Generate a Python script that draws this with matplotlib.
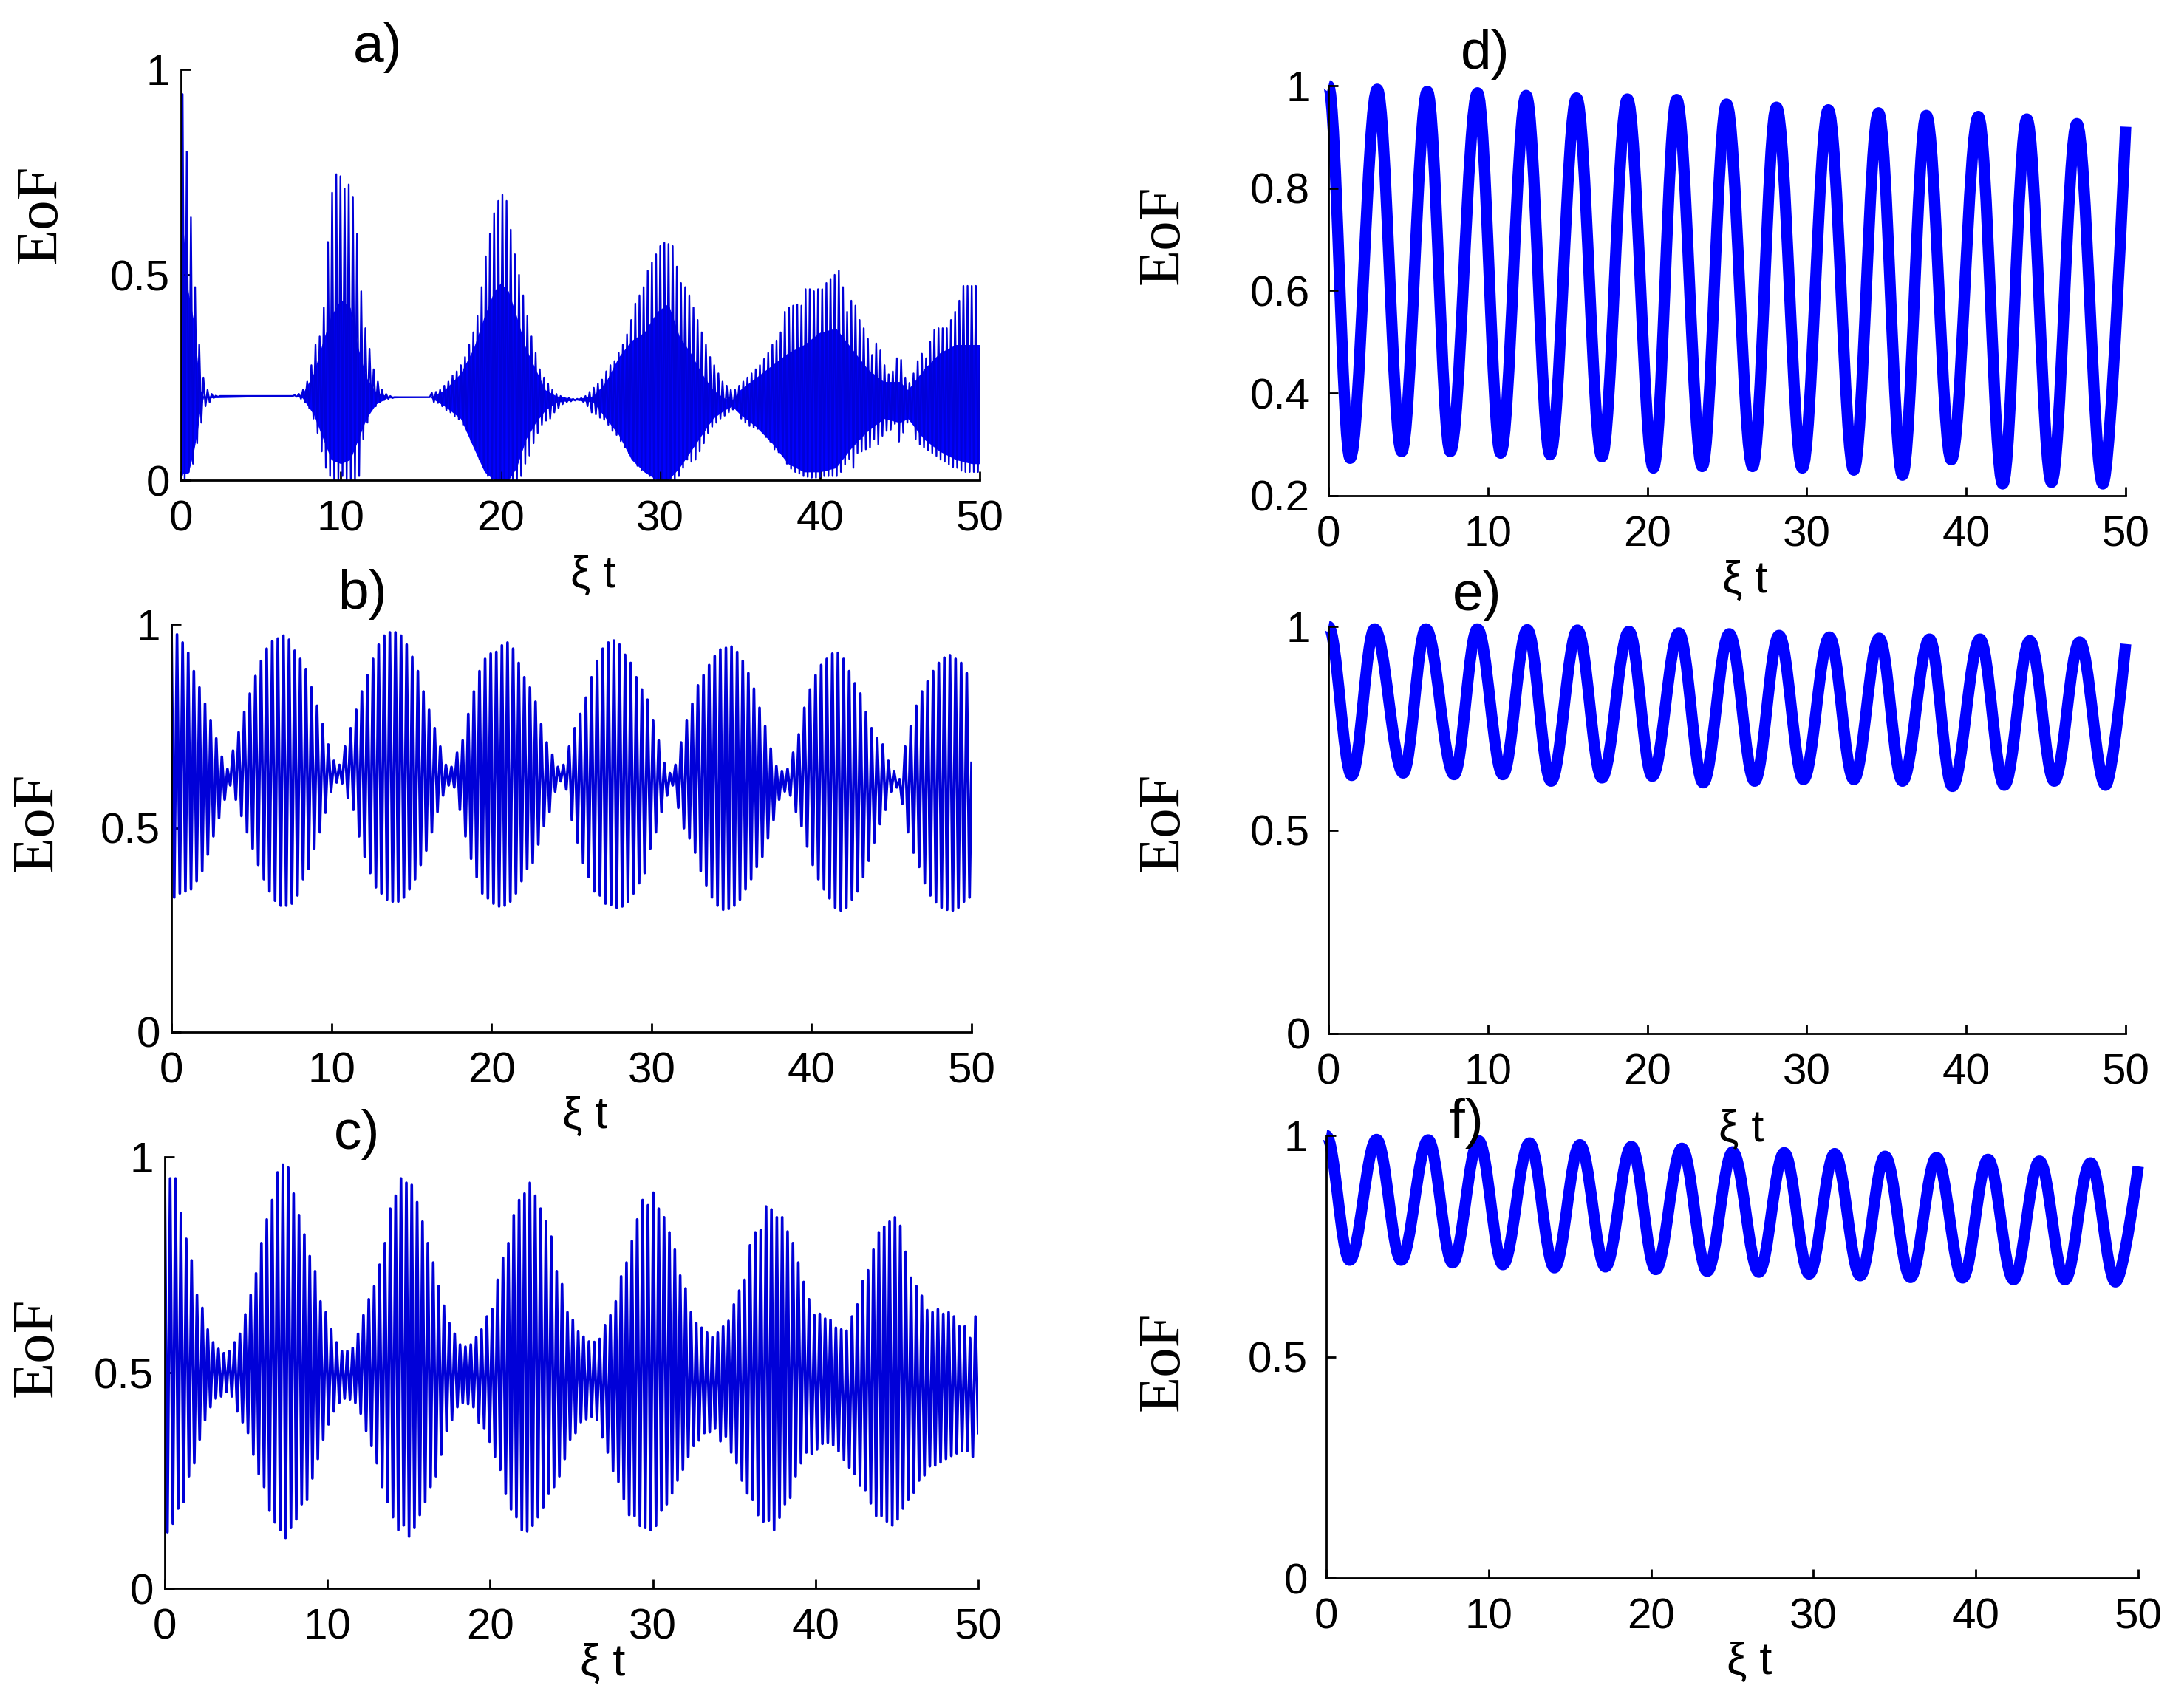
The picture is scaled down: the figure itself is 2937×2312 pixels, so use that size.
import numpy as np
import matplotlib
matplotlib.use("Agg")
import matplotlib.pyplot as plt
from matplotlib.path import Path
from matplotlib.patches import PathPatch

# ---------------- text / ticks ----------------
x_ticks = [0, 10, 20, 30, 40, 50]
x_tick_labels = ['0', '10', '20', '30', '40', '50']
y_ticks_std = [0, 0.5, 1]
y_tick_labels_std = ['0', '0.5', '1']
y_ticks_d = [0.2, 0.4, 0.6, 0.8, 1.0]
y_tick_labels_d = ['0.2', '0.4', '0.6', '0.8', '1']
panel_labels = ['a)', 'b)', 'c)', 'd)', 'e)', 'f)']
x_label = 'ξ t'
y_label = 'EoF'

# ---------------- panel a : fast oscillation extrema ----------------
a_period = 0.26
a_offset = 0.1
a_start = (0.0, 0.0)
a_upper = [0.94, 0.80, 0.64, 0.47, 0.33, 0.25, 0.22, 0.21, 0.206,
           0.205, 0.205, 0.205, 0.205, 0.205, 0.205, 0.205, 0.205, 0.205,
           0.205, 0.205, 0.205, 0.205, 0.205, 0.205, 0.205, 0.205, 0.205,
           0.207, 0.21, 0.22, 0.24, 0.28, 0.33, 0.35, 0.42, 0.58, 0.70, 0.745, 0.74,
           0.71, 0.72, 0.69, 0.60, 0.46, 0.37, 0.32, 0.27, 0.24, 0.22, 0.21, 0.205,
           0.202, 0.202, 0.202, 0.202, 0.202, 0.202, 0.202, 0.202, 0.202,
           0.213, 0.215, 0.22, 0.23, 0.24, 0.255, 0.265, 0.28, 0.30, 0.33, 0.36, 0.40,
           0.47, 0.545, 0.60, 0.65, 0.68, 0.695, 0.68, 0.61, 0.55, 0.50, 0.45, 0.40,
           0.35, 0.31, 0.27, 0.25, 0.235, 0.22, 0.21, 0.205, 0.20, 0.20, 0.198, 0.198,
           0.20, 0.205, 0.215, 0.225, 0.235, 0.245, 0.265, 0.28, 0.29, 0.31, 0.33, 0.355,
           0.39, 0.43, 0.45, 0.47, 0.51, 0.53, 0.55, 0.57, 0.578, 0.575, 0.57, 0.52,
           0.48, 0.47, 0.45, 0.42, 0.39, 0.36, 0.33, 0.30, 0.28, 0.26, 0.24, 0.23, 0.22, 0.22,
           0.23, 0.24, 0.25, 0.26, 0.27, 0.28, 0.295, 0.31, 0.33, 0.34, 0.36, 0.41,
           0.42, 0.425, 0.428, 0.425, 0.465, 0.465, 0.46, 0.465, 0.465, 0.48, 0.49, 0.50,
           0.51, 0.47, 0.41, 0.437, 0.425, 0.39, 0.37, 0.344, 0.305, 0.333, 0.316, 0.28,
           0.258, 0.265, 0.297, 0.293, 0.25, 0.237,
           0.26, 0.29, 0.308, 0.297, 0.337, 0.366, 0.37, 0.37, 0.37, 0.39, 0.41, 0.437,
           0.473, 0.473, 0.473, 0.473]
a_lower = [0.00, 0.02, 0.04, 0.09, 0.14, 0.18, 0.19, 0.20, 0.203,
           0.205, 0.205, 0.205, 0.205, 0.205, 0.205, 0.205, 0.205, 0.205,
           0.205, 0.205, 0.205, 0.205, 0.205, 0.205, 0.205, 0.205, 0.205,
           0.203, 0.198, 0.19, 0.175, 0.15, 0.115, 0.07, 0.03, 0.01, 0.00, 0.00, 0.01,
           0.00, 0.00, 0.00, 0.01, 0.10, 0.14, 0.17, 0.18, 0.19, 0.195, 0.198, 0.20,
           0.202, 0.202, 0.202, 0.202, 0.202, 0.202, 0.202, 0.202, 0.202,
           0.19, 0.188, 0.18, 0.17, 0.165, 0.155, 0.148, 0.135, 0.12, 0.095, 0.08, 0.05,
           0.03, 0.01, 0.00, 0.00, 0.00, 0.00, 0.00, 0.00, 0.00, 0.01, 0.04, 0.06,
           0.09, 0.115, 0.135, 0.145, 0.15, 0.165, 0.175, 0.185, 0.19, 0.192, 0.194, 0.195,
           0.19, 0.18, 0.165, 0.16, 0.152, 0.147, 0.135, 0.12, 0.11, 0.095, 0.08, 0.065,
           0.05, 0.035, 0.025, 0.02, 0.01, 0.00, 0.00, 0.00, 0.00, 0.00, 0.00, 0.01,
           0.03, 0.05, 0.045, 0.05, 0.07, 0.09, 0.115, 0.13, 0.14, 0.15, 0.157, 0.165, 0.172, 0.17,
           0.15, 0.14, 0.132, 0.128, 0.125, 0.12, 0.105, 0.094, 0.075, 0.068, 0.059, 0.04,
           0.028, 0.02, 0.016, 0.01, 0.008, 0.006, 0.006, 0.008, 0.01, 0.01, 0.01, 0.01,
           0.02, 0.038, 0.052, 0.03, 0.066, 0.07, 0.075, 0.08, 0.10, 0.087, 0.108, 0.12,
           0.123, 0.137, 0.094, 0.116, 0.14, 0.144,
           0.10, 0.087, 0.08, 0.073, 0.066, 0.059, 0.05, 0.045, 0.038, 0.032, 0.03, 0.023,
           0.02, 0.02, 0.02, 0.02]
a_end = (50.0, 0.32)
# dense core of panel a (solid region)
a_core_t = [0.0, 0.12, 0.45, 0.78, 1.03, 1.2, 1.4,
            7.2, 7.6, 8.3, 8.9, 9.4, 10.0, 10.6, 11.1, 11.6, 12.2, 12.9,
            15.6, 16.5, 17.5, 18.3, 19.0, 19.6, 20.0, 20.5, 21.0, 21.6, 22.2, 22.8, 23.5,
            24.7, 25.8, 26.6, 27.4, 28.2, 29.0, 29.8, 30.5, 31.2, 31.9, 32.6, 33.3, 34.0,
            34.5, 35.0, 36.0, 37.0, 38.0, 39.0, 40.0, 41.0, 42.0, 43.0, 44.0, 45.0,
            45.5, 46.5, 47.5, 48.5, 49.5, 50.0]
a_core_hi = [0.60, 0.62, 0.46, 0.39, 0.29, 0.22, 0.205,
             0.205, 0.21, 0.26, 0.34, 0.40, 0.44, 0.42, 0.32, 0.25, 0.215, 0.205,
             0.202, 0.22, 0.26, 0.32, 0.40, 0.46, 0.48, 0.46, 0.40, 0.32, 0.27, 0.22, 0.205,
             0.198, 0.205, 0.24, 0.30, 0.34, 0.36, 0.41, 0.43, 0.35, 0.31, 0.26, 0.22, 0.20,
             0.195, 0.22, 0.25, 0.28, 0.31, 0.33, 0.36, 0.37, 0.32, 0.27, 0.24, 0.24,
             0.22, 0.27, 0.31, 0.33, 0.33, 0.33]
a_core_lo = [0.0, 0.016, 0.016, 0.067, 0.12, 0.17, 0.2,
             0.205, 0.20, 0.16, 0.10, 0.05, 0.04, 0.05, 0.10, 0.15, 0.185, 0.20,
             0.202, 0.18, 0.15, 0.08, 0.02, 0.0, 0.0, 0.0, 0.03, 0.10, 0.14, 0.17, 0.19,
             0.195, 0.19, 0.15, 0.11, 0.05, 0.02, 0.0, 0.0, 0.03, 0.07, 0.11, 0.15, 0.17,
             0.18, 0.16, 0.13, 0.09, 0.04, 0.02, 0.02, 0.03, 0.08, 0.12, 0.15, 0.14,
             0.15, 0.10, 0.07, 0.05, 0.04, 0.04]

# ---------------- panel b ----------------
b_period = 0.35
b_upper = [1.0, 0.975, 0.955, 0.93, 0.885, 0.845, 0.805, 0.765, 0.72, 0.675,
           0.645, 0.69, 0.735, 0.785, 0.83, 0.873, 0.91, 0.94, 0.958, 0.965,
           0.972, 0.962, 0.935, 0.915, 0.89, 0.845, 0.80, 0.755, 0.705, 0.665,
           0.655, 0.70, 0.745, 0.79, 0.835, 0.875, 0.915, 0.95, 0.972, 0.98,
           0.98, 0.972, 0.95, 0.92, 0.885, 0.835, 0.79, 0.745, 0.70, 0.655,
           0.65, 0.685, 0.715, 0.78, 0.835, 0.885, 0.915, 0.928, 0.932, 0.948,
           0.955, 0.94, 0.905, 0.87, 0.845, 0.81, 0.755, 0.71, 0.68, 0.65,
           0.655, 0.70, 0.745, 0.78, 0.82, 0.87, 0.91, 0.94, 0.955, 0.96,
           0.95, 0.925, 0.905, 0.87, 0.84, 0.815, 0.765, 0.715, 0.66, 0.635,
           0.655, 0.71, 0.765, 0.805, 0.85, 0.875, 0.90, 0.922, 0.938, 0.942,
           0.945, 0.932, 0.91, 0.88, 0.842, 0.795, 0.75, 0.695, 0.652, 0.64,
           0.645, 0.685, 0.73, 0.795, 0.84, 0.875, 0.90, 0.915, 0.928, 0.93,
           0.915, 0.885, 0.855, 0.83, 0.785, 0.745, 0.72, 0.705, 0.665, 0.64,
           0.62, 0.70, 0.75, 0.80, 0.835, 0.86, 0.885, 0.905, 0.918, 0.924,
           0.915, 0.905, 0.88]
b_lower = [0.33, 0.34, 0.345, 0.35, 0.37, 0.395, 0.435, 0.48, 0.525, 0.57,
           0.605, 0.57, 0.53, 0.49, 0.45, 0.41, 0.375, 0.345, 0.322, 0.31,
           0.31, 0.315, 0.335, 0.375, 0.40, 0.45, 0.49, 0.538, 0.59, 0.612,
           0.61, 0.575, 0.545, 0.48, 0.43, 0.39, 0.355, 0.34, 0.325, 0.32,
           0.32, 0.33, 0.35, 0.375, 0.41, 0.445, 0.49, 0.54, 0.58, 0.605,
           0.60, 0.545, 0.48, 0.425, 0.38, 0.34, 0.328, 0.315, 0.308, 0.31,
           0.32, 0.34, 0.37, 0.40, 0.415, 0.46, 0.505, 0.54, 0.59, 0.615,
           0.595, 0.52, 0.465, 0.415, 0.38, 0.345, 0.335, 0.315, 0.312, 0.305,
           0.308, 0.32, 0.34, 0.365, 0.39, 0.45, 0.49, 0.54, 0.58, 0.605,
           0.55, 0.50, 0.475, 0.44, 0.395, 0.36, 0.33, 0.31, 0.30, 0.302,
           0.31, 0.325, 0.35, 0.375, 0.405, 0.43, 0.475, 0.52, 0.57, 0.59,
           0.58, 0.54, 0.505, 0.455, 0.41, 0.375, 0.35, 0.328, 0.305, 0.298,
           0.305, 0.325, 0.345, 0.38, 0.42, 0.465, 0.51, 0.545, 0.59, 0.60,
           0.56, 0.49, 0.44, 0.405, 0.365, 0.335, 0.318, 0.305, 0.30, 0.298,
           0.305, 0.32, 0.33]
b_end = (50.0, 0.66)

# ---------------- panel c ----------------
c_period = 0.33
c_upper = [0.96, 0.95, 0.95, 0.87, 0.81, 0.76, 0.68, 0.65, 0.60, 0.57,
           0.555, 0.545, 0.55, 0.57, 0.59, 0.635, 0.68, 0.73, 0.80, 0.855,
           0.90, 0.964, 0.982, 0.975, 0.915, 0.865, 0.82, 0.77, 0.735, 0.665,
           0.64, 0.60, 0.57, 0.55, 0.55, 0.557, 0.59, 0.633, 0.67, 0.70,
           0.75, 0.80, 0.88, 0.91, 0.95, 0.94, 0.935, 0.895, 0.85, 0.80,
           0.755, 0.70, 0.655, 0.615, 0.59, 0.565, 0.56, 0.565, 0.582, 0.60,
           0.63, 0.647, 0.715, 0.766, 0.80, 0.865, 0.90, 0.915, 0.94, 0.91,
           0.88, 0.85, 0.815, 0.735, 0.705, 0.64, 0.622, 0.595, 0.583, 0.572,
           0.571, 0.578, 0.61, 0.633, 0.665, 0.723, 0.755, 0.805, 0.855, 0.90,
           0.888, 0.917, 0.88, 0.86, 0.825, 0.785, 0.725, 0.695, 0.64, 0.615,
           0.604, 0.593, 0.582, 0.593, 0.607, 0.62, 0.658, 0.69, 0.715, 0.795,
           0.825, 0.83, 0.885, 0.878, 0.86, 0.86, 0.827, 0.80, 0.755, 0.71,
           0.67, 0.633, 0.636, 0.625, 0.622, 0.604, 0.60, 0.597, 0.63, 0.658,
           0.712, 0.737, 0.785, 0.825, 0.838, 0.85, 0.86, 0.84, 0.78, 0.72,
           0.70, 0.678, 0.645, 0.64, 0.647, 0.636, 0.64, 0.63, 0.607, 0.607,
           0.58, 0.63]
c_lower = [0.13, 0.15, 0.185, 0.20, 0.26, 0.29, 0.345, 0.39, 0.42, 0.44,
           0.445, 0.455, 0.445, 0.41, 0.385, 0.36, 0.31, 0.265, 0.235, 0.18,
           0.153, 0.135, 0.117, 0.14, 0.16, 0.195, 0.205, 0.255, 0.30, 0.345,
           0.38, 0.41, 0.43, 0.44, 0.438, 0.43, 0.405, 0.365, 0.33, 0.29,
           0.235, 0.20, 0.165, 0.135, 0.146, 0.12, 0.14, 0.17, 0.20, 0.235,
           0.26, 0.31, 0.365, 0.39, 0.42, 0.43, 0.427, 0.42, 0.384, 0.37,
           0.34, 0.305, 0.275, 0.219, 0.183, 0.165, 0.135, 0.132, 0.145, 0.165,
           0.188, 0.219, 0.235, 0.26, 0.30, 0.345, 0.36, 0.385, 0.392, 0.398,
           0.39, 0.35, 0.315, 0.272, 0.247, 0.207, 0.17, 0.168, 0.145, 0.14,
           0.135, 0.145, 0.18, 0.195, 0.22, 0.25, 0.275, 0.305, 0.33, 0.343,
           0.36, 0.362, 0.37, 0.341, 0.352, 0.315, 0.29, 0.25, 0.22, 0.205,
           0.17, 0.155, 0.157, 0.135, 0.164, 0.195, 0.21, 0.26, 0.29, 0.315,
           0.312, 0.322, 0.335, 0.338, 0.332, 0.318, 0.298, 0.28, 0.265, 0.238,
           0.228, 0.197, 0.168, 0.168, 0.155, 0.146, 0.16, 0.185, 0.205, 0.222,
           0.25, 0.262, 0.283, 0.285, 0.292, 0.30, 0.307, 0.313, 0.319, 0.319,
           0.305, 0.36]

# ---------------- panels d, e, f : extrema of the slow oscillation ----------------
d_peak_t = [0.0, 3.06, 6.2, 9.35, 12.4, 15.56, 18.75, 21.84, 24.97, 28.1, 31.35, 34.5, 37.5, 40.76, 43.8, 46.94]
d_peak_v = [1.0, 0.993, 0.989, 0.986, 0.981, 0.976, 0.974, 0.973, 0.964, 0.958, 0.953, 0.947, 0.942, 0.940, 0.935, 0.926]
d_trough_t = [1.36, 4.59, 7.64, 10.8, 13.9, 17.15, 20.38, 23.44, 26.6, 29.72, 32.95, 36.0, 39.06, 42.29, 45.35, 48.57]
d_trough_v = [0.273, 0.286, 0.286, 0.283, 0.28, 0.276, 0.254, 0.257, 0.257, 0.254, 0.25, 0.24, 0.27, 0.223, 0.226, 0.223]
d_end = (50.0, 0.92)

e_peak_t = [0.0, 2.89, 6.11, 9.34, 12.47, 15.62, 18.85, 21.98, 25.14, 28.26, 31.42, 34.54, 37.7, 40.86, 43.99, 47.11]
e_peak_v = [1.0, 0.994, 0.994, 0.994, 0.992, 0.991, 0.988, 0.984, 0.982, 0.978, 0.974, 0.971, 0.969, 0.969, 0.965, 0.962]
e_trough_t = [1.46, 4.69, 7.88, 10.94, 13.96, 17.15, 20.31, 23.5, 26.73, 29.79, 32.95, 36.0, 39.13, 42.39, 45.52, 48.74]
e_trough_v = [0.634, 0.640, 0.636, 0.636, 0.620, 0.628, 0.632, 0.616, 0.620, 0.624, 0.624, 0.620, 0.607, 0.610, 0.620, 0.610]
e_end = (50.0, 0.957)

f_peak_t = [0.0, 3.10, 6.28, 9.38, 12.52, 15.62, 18.79, 21.9, 25.03, 28.2, 31.31, 34.41, 37.58, 40.75, 43.92, 47.06]
f_peak_v = [1.0, 0.991, 0.990, 0.988, 0.983, 0.979, 0.975, 0.971, 0.963, 0.961, 0.959, 0.953, 0.950, 0.946, 0.942, 0.938]
f_trough_t = [1.44, 4.61, 7.78, 10.88, 14.05, 17.19, 20.29, 23.46, 26.64, 29.74, 32.88, 35.98, 39.19, 42.32, 45.49, 48.6]
f_trough_v = [0.718, 0.718, 0.712, 0.708, 0.701, 0.703, 0.697, 0.693, 0.691, 0.687, 0.683, 0.679, 0.678, 0.674, 0.674, 0.669]
f_end = (50.0, 0.93)

# ---------------- styling ----------------
BLUE = '#0000ff'
THIN_BLUE = '#0000d8'
plt.rcParams['font.family'] = ['Liberation Sans', 'DejaVu Sans']
SERIF = ['Liberation Serif', 'DejaVu Serif']

W, H = 2937, 2312
fig = plt.figure(figsize=(W / 100, H / 100), dpi=100)


def px_axes(left, top, right, bottom):
    return fig.add_axes([left / W, 1 - bottom / H, (right - left) / W, (bottom - top) / H])


def style(ax, yt, ytl, ylim, ypad):
    ax.set_xlim(0, 50)
    ax.set_ylim(*ylim)
    ax.set_xticks(x_ticks)
    ax.set_xticklabels(x_tick_labels)
    ax.set_yticks(yt)
    ax.set_yticklabels(ytl)
    for s in ('top', 'right'):
        ax.spines[s].set_visible(False)
    for s in ('left', 'bottom'):
        ax.spines[s].set_linewidth(2.0)
        ax.spines[s].set_zorder(5)
    ax.tick_params(direction='in', length=9, width=2, labelsize=42)
    ax.tick_params(axis='x', pad=19)
    ax.tick_params(axis='y', pad=ypad)
    ax.patch.set_alpha(0)


def osc_series(period, upper, lower, offset=0.0, start=None, end=None):
    n = min(len(upper), len(lower))
    k = np.arange(n)
    t = np.column_stack([offset + k * period, offset + (k + 0.5) * period]).ravel()
    y = np.column_stack([np.asarray(upper[:n]), np.asarray(lower[:n])]).ravel()
    if start is not None:
        t = np.insert(t, 0, start[0])
        y = np.insert(y, 0, start[1])
    if end is not None:
        t = np.append(t, end[0])
        y = np.append(y, end[1])
    return t, y


def smooth_curve(ax, pt, pv, tt, tv, end, lw):
    ts, vs = [], []
    for i in range(len(pt)):
        ts.append(pt[i]); vs.append(pv[i])
        if i < len(tt):
            ts.append(tt[i]); vs.append(tv[i])
    verts = [(ts[0], vs[0])]
    codes = [Path.MOVETO]
    for i in range(len(ts) - 1):
        dt = ts[i + 1] - ts[i]
        kk = 0.36
        verts += [(ts[i] + kk * dt, vs[i]), (ts[i + 1] - kk * dt, vs[i + 1]), (ts[i + 1], vs[i + 1])]
        codes += [Path.CURVE4] * 3
    dt = end[0] - ts[-1]
    verts += [(ts[-1] + 0.33 * dt, vs[-1]), (end[0], end[1]), (end[0], end[1])]
    codes += [Path.CURVE4] * 3
    patch = PathPatch(Path(verts, codes), fill=False, lw=lw, ec=BLUE,
                      capstyle='butt', joinstyle='round', clip_on=False)
    ax.add_patch(patch)


# ---- panel a
ax_a = px_axes(245, 94, 1326, 650)
ax_a.fill_between(a_core_t, a_core_lo, a_core_hi, color=BLUE, lw=0)
t, y = osc_series(a_period, a_upper, a_lower, a_offset, a_start, a_end)
ax_a.plot(t, y, color=THIN_BLUE, lw=1.7, solid_joinstyle='round')
style(ax_a, y_ticks_std, y_tick_labels_std, (0, 1), 11)

# ---- panel b
ax_b = px_axes(232, 845, 1315, 1397)
t, y = osc_series(b_period, b_upper, b_lower, end=b_end)
ax_b.plot(t, y, color=THIN_BLUE, lw=2.6, solid_joinstyle='round')
style(ax_b, y_ticks_std, y_tick_labels_std, (0, 1), 11)

# ---- panel c
ax_c = px_axes(223, 1566, 1324, 2150)
t, y = osc_series(c_period, c_upper, c_lower)
ax_c.plot(t, y, color=THIN_BLUE, lw=2.6, solid_joinstyle='round')
style(ax_c, y_ticks_std, y_tick_labels_std, (0, 1), 11)

# ---- panel d
ax_d = px_axes(1798, 116, 2877, 671)
smooth_curve(ax_d, d_peak_t, d_peak_v, d_trough_t, d_trough_v, d_end, 11)
style(ax_d, y_ticks_d, y_tick_labels_d, (0.2, 1), 18)

# ---- panel e
ax_e = px_axes(1798, 848, 2877, 1399)
smooth_curve(ax_e, e_peak_t, e_peak_v, e_trough_t, e_trough_v, e_end, 11)
style(ax_e, y_ticks_std, y_tick_labels_std, (0, 1), 18)

# ---- panel f
ax_f = px_axes(1795, 1537, 2894, 2136)
smooth_curve(ax_f, f_peak_t, f_peak_v, f_trough_t, f_trough_v, f_end, 11)
style(ax_f, y_ticks_std, y_tick_labels_std, (0, 1), 18)

# ---- figure texts (pixel positions)
label_pos = [(511, 84), (491, 824), (483, 1555), (2010, 93), (1999, 826), (1985, 1540)]
for lab, (xp, yp) in zip(panel_labels, label_pos):
    fig.text(xp / W, 1 - yp / H, lab, fontsize=54, ha='center', va='baseline')

xlabel_pos = [(803, 795), (792, 1527), (816, 2268), (2362, 802), (2357, 1545), (2368, 2266)]
for (xp, yp) in xlabel_pos:
    fig.text(xp / W, 1 - yp / H, x_label, fontsize=44, ha='center', va='baseline')

ylabel_pos = [(56, 290), (51, 1113), (51, 1824), (1575, 318), (1575, 1113), (1575, 1843)]
for (xp, yp) in ylabel_pos:
    fig.text(xp / W, 1 - yp / H, y_label, fontsize=58, rotation=90, ha='center', va='center',
             family=SERIF)

fig.savefig('out.png', dpi=100, facecolor='white')
